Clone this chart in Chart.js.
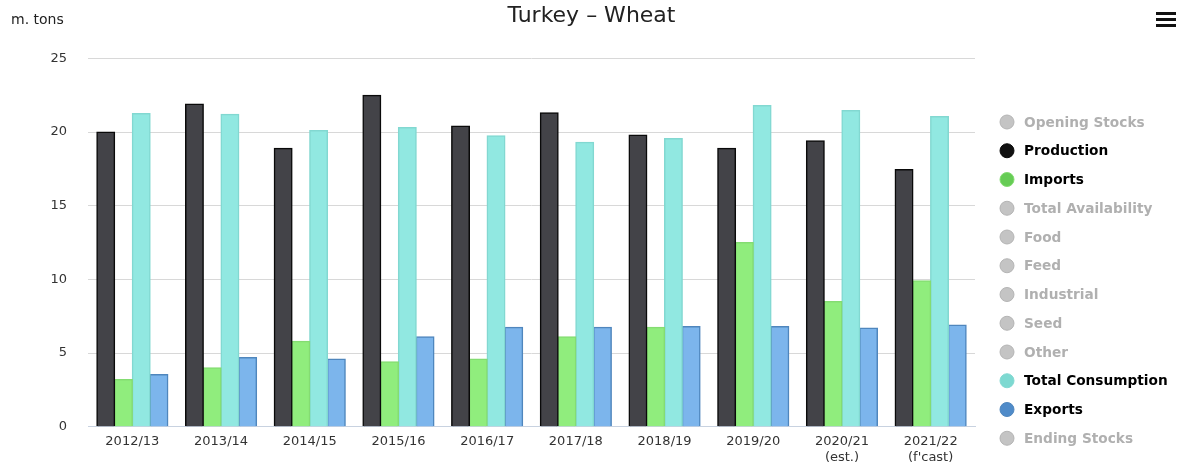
<!DOCTYPE html>
<html>
<head>
<meta charset="utf-8">
<script src="https://cdn.jsdelivr.net/npm/chart.js@4"></script>
<style>
  html, body { margin:0; padding:0; background:#fff; }
  #wrap { position:relative; width:1183px; height:474px; }
</style>
</head>
<body>
<div id="wrap"><canvas id="wheatChart" width="1183" height="474"></canvas></div>
<script>
// =========================
// DATA
// =========================
const categories = ['2012/13','2013/14','2014/15','2015/16','2016/17','2017/18','2018/19','2019/20',['2020/21','(est.)'],['2021/22',"(f'cast)"]];
const production       = [20.0, 21.9, 18.9, 22.5, 20.4, 21.3, 19.8, 18.9, 19.4, 17.45];
const imports          = [3.2, 4.0, 5.8, 4.4, 4.6, 6.1, 6.75, 12.5, 8.5, 9.9];
const totalConsumption = [21.25, 21.2, 20.1, 20.3, 19.75, 19.3, 19.55, 21.8, 21.45, 21.05];
const exportsData      = [3.55, 4.7, 4.6, 6.1, 6.75, 6.75, 6.8, 6.8, 6.7, 6.9];
const yTicks = [0, 5, 10, 15, 20, 25];

const FONT = '"DejaVu Sans", Verdana, sans-serif';
const GREY = '#c4c4c4';

Chart.defaults.font.family = FONT;
Chart.defaults.color = '#333333';

// series list, in legend order (grey ones are switched off)
const series = [
  { label:'Opening Stocks',    data:[], hidden:true },
  { label:'Production',        data:production, fill:'#434348', border:'#0a0a0a', dot:'#111111' },
  { label:'Imports',           data:imports, fill:'#90ed7d', border:'#84dc72', dot:'#66cc55' },
  { label:'Total Availability',data:[], hidden:true },
  { label:'Food',              data:[], hidden:true },
  { label:'Feed',              data:[], hidden:true },
  { label:'Industrial',        data:[], hidden:true },
  { label:'Seed',              data:[], hidden:true },
  { label:'Other',             data:[], hidden:true },
  { label:'Total Consumption', data:totalConsumption, fill:'#91e8e1', border:'#82d8d1', dot:'#7dd9d1' },
  { label:'Exports',           data:exportsData, fill:'#7cb5ec', border:'#4f86bd', dot:'#4f8bc9' },
  { label:'Ending Stocks',     data:[], hidden:true }
];

// unit label, menu icon and the side legend (switched-off series in grey)
const extras = {
  id: 'extras',
  afterDraw(chart) {
    const c = chart.ctx;
    c.save();
    c.fillStyle = '#222';
    c.font = '14px ' + FONT;
    c.textBaseline = 'middle';
    c.fillText('m. tons', 11, 20);
    c.fillStyle = '#111';
    [12, 18, 24].forEach(y => c.fillRect(1156, y, 20, 3));

    c.font = 'bold 13.7px ' + FONT;
    chart.data.datasets.forEach((ds, i) => {
      const y = 122 + i * 28.75;
      c.beginPath();
      c.arc(1007, y, 7, 0, Math.PI * 2);
      c.fillStyle = ds.hidden ? GREY : ds.dot;
      c.fill();
      c.lineWidth = 1;
      c.strokeStyle = ds.hidden ? '#b4b4b4' : ds.borderColor;
      c.stroke();
      c.fillStyle = ds.hidden ? '#b0b0b0' : '#000000';
      c.fillText(ds.label, 1024, y + 1);
    });
    c.restore();
  }
};

new Chart(document.getElementById('wheatChart'), {
  type: 'bar',
  data: {
    labels: categories,
    datasets: series.map(s => ({
      label: s.label,
      data: s.data,
      hidden: !!s.hidden,
      backgroundColor: s.fill || GREY,
      borderColor: s.border || GREY,
      borderWidth: 1.5,
      inflateAmount: 0.6,
      dot: s.dot || GREY,
      categoryPercentage: 0.8,
      barPercentage: 1.0
    }))
  },
  options: {
    responsive: false,
    animation: false,
    layout: { padding: { left: 0, right: 0, top: 0, bottom: 2 } },
    plugins: {
      title: {
        display: true,
        text: 'Turkey – Wheat',
        color: '#222',
        font: { size: 22, weight: 'normal' },
        padding: { top: 3, bottom: 29 }
      },
      legend: { display: false },
      tooltip: { enabled: false }
    },
    scales: {
      x: {
        grid: { display: false, drawTicks: false },
        border: { color: '#c8d2e0' },
        ticks: { color: '#333', font: { size: 13 }, padding: 7, maxRotation: 0, autoSkip: false }
      },
      y: {
        min: 0, max: 25,
        afterBuildTicks(scale) { scale.ticks = yTicks.map(v => ({ value: v })); },
        afterFit(scale) { scale.width = 88; },
        grid: { color: '#d8d8d8', drawTicks: false },
        border: { display: false },
        ticks: { color: '#333', font: { size: 13 }, padding: 21 }
      },
      // empty right-hand strip that holds the legend
      side: {
        type: 'linear',
        position: 'right',
        display: true,
        afterFit(scale) { scale.width = 208; },
        grid: { display: false },
        border: { display: false },
        ticks: { display: false }
      }
    }
  },
  plugins: [extras]
});
</script>
</body>
</html>
